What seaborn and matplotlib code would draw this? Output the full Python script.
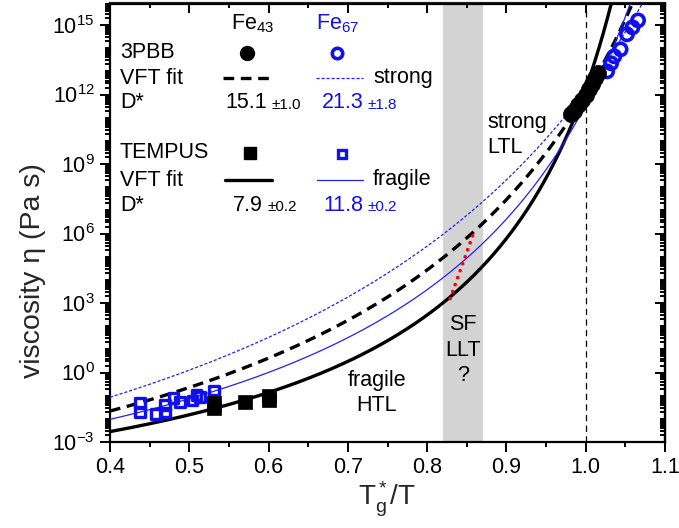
import numpy as np
import matplotlib
matplotlib.use("Agg")
import matplotlib.pyplot as plt
import seaborn as sns
from matplotlib.ticker import FixedLocator, LogLocator, MultipleLocator, NullFormatter, FuncFormatter

# ---- measured viscosities (log10 of eta in Pa s) vs Tg*/T ----
fe43_3pbb_x = [0.981, 0.985, 0.990, 0.995, 1.000, 1.004, 1.008, 1.012, 1.016]
fe43_3pbb_log = [11.15, 11.30, 11.55, 11.75, 12.00, 12.25, 12.45, 12.70, 12.95]
fe67_3pbb_x = [1.027, 1.032, 1.036, 1.044, 1.052, 1.059, 1.066]
fe67_3pbb_log = [13.00, 13.35, 13.65, 13.95, 14.60, 14.90, 15.20]
fe43_tempus_x = [0.531, 0.531, 0.570, 0.601, 0.601]
fe43_tempus_log = [-1.30, -1.52, -1.26, -1.02, -1.20]
fe67_tempus_x = [0.438, 0.438, 0.458, 0.469, 0.469, 0.480, 0.488, 0.504, 0.509, 0.514, 0.531]
fe67_tempus_log = [-1.33, -1.69, -1.79, -1.73, -1.40, -1.11, -1.26, -1.21, -0.97, -1.04, -0.78]

# ---- VFT fits: fragility D*, T0 (units of Tg*), log10 eta0 ----
fit_names = ["Fe43 3PBB", "Fe67 3PBB", "Fe43 TEMPUS", "Fe67 TEMPUS"]
fit_D = [15.1, 21.3, 7.9, 11.8]
fit_D_err = [1.0, 1.8, 0.2, 0.2]
fit_T0 = [0.713, 0.640, 0.828, 0.755]
fit_logeta0 = [-4.28, -4.25, -4.25, -4.24]

# strong-fragile transition path between the two Fe43 fits
sf_x = [0.829, 0.858]
sf_log = [3.19, 5.96]

# region of the proposed liquid-liquid transition
llt_band = [0.82, 0.87]

x_ticks = [0.4, 0.5, 0.6, 0.7, 0.8, 0.9, 1.0, 1.1]
y_tick_exps = [-3, 0, 3, 6, 9, 12, 15]


def vft(x, D, T0, logeta0):
    x = np.asarray(x)
    return 10 ** (logeta0 + D * T0 * x / (np.log(10) * (1 - T0 * x)))


sns.set_theme(style="ticks")
plt.rcParams["font.family"] = ["Liberation Sans", "DejaVu Sans"]
plt.rcParams["mathtext.fontset"] = "custom"
plt.rcParams["mathtext.rm"] = "Liberation Sans"
plt.rcParams["mathtext.it"] = "Liberation Sans:italic"

fig = plt.figure(figsize=(6.79, 5.28), dpi=100)
ax = fig.add_axes([110 / 679, 1 - 442 / 528, 555 / 679, 438.5 / 528])
ax.set_yscale("log")
ylo, yhi = 1e-3, 10 ** 15.93
ax.set_xlim(0.4, 1.1)
ax.set_ylim(ylo, yhi)

ax.axvspan(llt_band[0], llt_band[1], color="#d3d3d3", lw=0, zorder=0)
ax.axvline(1.0, color="black", lw=0.9, linestyle=(0, (5, 3.5)), zorder=1)

styles = [
    dict(color="black", lw=2.4, linestyle=(0, (3.2, 2.0))),
    dict(color="#2020ff", lw=0.9, linestyle=(0, (2.5, 1.5))),
    dict(color="black", lw=2.4, linestyle="-"),
    dict(color="#2020ff", lw=0.9, linestyle="-"),
]
xs_all = np.linspace(0.4, 1.1, 1400)
for D, T0, a, st in zip(fit_D, fit_T0, fit_logeta0, styles):
    xs = xs_all[xs_all < 1 / T0 - 1e-3]
    eta = vft(xs, D, T0, a)
    keep = eta < 10 ** 16.5
    sns.lineplot(x=xs[keep], y=eta[keep], ax=ax, zorder=3, **st)

sns.lineplot(x=sf_x, y=[10 ** v for v in sf_log], ax=ax, color="red", lw=2.6,
             linestyle=(0, (0.05, 2.0)), dash_capstyle="round", zorder=4)

blue = "#1010ee"
sns.scatterplot(x=fe67_tempus_x, y=[10 ** v for v in fe67_tempus_log], ax=ax, marker="s",
                s=50, facecolor="none", edgecolor=blue, linewidth=2.4, zorder=5)
sns.scatterplot(x=fe43_tempus_x, y=[10 ** v for v in fe43_tempus_log], ax=ax, marker="s",
                s=100, color="black", edgecolor="black", linewidth=0.5, zorder=5)
sns.scatterplot(x=fe67_3pbb_x, y=[10 ** v for v in fe67_3pbb_log], ax=ax, marker="o",
                s=78, facecolor="none", edgecolor=blue, linewidth=2.6, zorder=5)
sns.scatterplot(x=fe43_3pbb_x, y=[10 ** v for v in fe43_3pbb_log], ax=ax, marker="o",
                s=135, color="black", edgecolor="black", linewidth=0.5, zorder=6)

# axes, ticks
for sp in ax.spines.values():
    sp.set_linewidth(1.6)
    sp.set_color("black")
    sp.set_visible(True)
ax.xaxis.set_major_locator(FixedLocator(x_ticks))
ax.xaxis.set_minor_locator(MultipleLocator(0.05))
ax.xaxis.set_major_formatter(FuncFormatter(lambda v, p: f"{v:.1f}"))
ax.yaxis.set_major_locator(FixedLocator([10.0 ** e for e in y_tick_exps]))
ax.yaxis.set_minor_locator(LogLocator(base=10, subs=np.arange(1, 10), numticks=100))
ax.yaxis.set_minor_formatter(NullFormatter())
ax.yaxis.set_major_formatter(FuncFormatter(lambda v, p: r"$\mathregular{10^{%d}}$" % round(np.log10(v))))
ax.tick_params(which="both", direction="out", color="black", width=1.4,
               labelsize=15.5, labelcolor="black", top=False, right=False)
ax.tick_params(which="major", length=7, pad=4)
ax.tick_params(which="minor", length=3.5)

top = ax.secondary_xaxis("top")
top.xaxis.set_major_locator(FixedLocator(x_ticks))
top.xaxis.set_minor_locator(MultipleLocator(0.05))
top.tick_params(which="both", direction="in", labeltop=False, width=1.4, color="black")
top.tick_params(which="major", length=7)
top.tick_params(which="minor", length=3.5)
top.spines["top"].set_linewidth(1.6)

right = ax.secondary_yaxis("right")
right.yaxis.set_major_locator(FixedLocator([10.0 ** e for e in y_tick_exps]))
right.yaxis.set_minor_locator(LogLocator(base=10, subs=np.arange(1, 10), numticks=100))
right.yaxis.set_minor_formatter(NullFormatter())
right.tick_params(which="both", direction="in", labelright=False, width=1.4, color="black")
right.tick_params(which="major", length=7)
right.tick_params(which="minor", length=3.5)
right.spines["right"].set_linewidth(1.6)

ax.set_xlabel(r"$\mathregular{T_g^*/T}$", fontsize=20, labelpad=1)
ax.set_ylabel("viscosity η (Pa s)", fontsize=20.5)
ax.yaxis.set_label_coords(-0.115, 0.39)


# ---- in-plot key (placed in axes fraction) ----
def px(xp, yp):
    return (xp - 110) / 555, (442 - yp) / 438.5


tk = dict(transform=ax.transAxes, fontsize=15.5, va="center", color="black")
ax.text(*px(253, 24), r"$\mathregular{Fe_{43}}$", ha="center", **tk)
ax.text(*px(338, 24), r"$\mathregular{Fe_{67}}$", ha="center", **{**tk, "color": blue})

ax.text(*px(120, 53), "3PBB", ha="left", **tk)
ax.plot(*px(247, 53), "o", ms=10, color="black", transform=ax.transAxes, clip_on=False)
ax.plot(*px(337, 53), "o", ms=7.5, mfc="none", mec=blue, mew=2.6, transform=ax.transAxes)
ax.text(*px(120, 78), "VFT fit", ha="left", **tk)
ax.plot([px(223, 0)[0], px(272, 0)[0]], [px(0, 78)[1]] * 2, transform=ax.transAxes, **styles[0])
ax.plot([px(316, 0)[0], px(363, 0)[0]], [px(0, 78)[1]] * 2, transform=ax.transAxes, **styles[1])
ax.text(*px(373, 78), "strong", ha="left", **tk)
ax.text(*px(120, 103), "D*", ha="left", **tk)

ax.text(*px(120, 153), "TEMPUS", ha="left", **tk)
ax.plot(*px(250, 153), "s", ms=8, color="black", transform=ax.transAxes)
ax.plot(*px(342, 154), "s", ms=6, mfc="none", mec=blue, mew=2.4, transform=ax.transAxes)
ax.text(*px(120, 180), "VFT fit", ha="left", **tk)
ax.plot([px(225, 0)[0], px(272, 0)[0]], [px(0, 180)[1]] * 2, transform=ax.transAxes, **styles[2])
ax.plot([px(317, 0)[0], px(363, 0)[0]], [px(0, 180)[1]] * 2, transform=ax.transAxes, **styles[3])
ax.text(*px(373, 180), "fragile", ha="left", **tk)
ax.text(*px(120, 205), "D*", ha="left", **tk)

# fragility values with uncertainties, in order of fit_names
value_pos = [(267, 103, "black"), (364, 103, blue), (263, 205, "black"), (363, 205, blue)]
for D, err, (xp, yp, col) in zip(fit_D, fit_D_err, value_pos):
    ax.text(*px(xp, yp), f"{D:.1f}", ha="right", **{**tk, "color": col})
    ax.text(*px(xp + 4, yp + 2), f"±{err:.1f}", ha="left", transform=ax.transAxes,
            fontsize=11, va="center", color=col)

# regime annotations
ax.text(*px(487, 135), "strong\nLTL", ha="left", linespacing=1.3, **tk)
ax.text(*px(463, 350), "SF\nLLT\n?", ha="center", linespacing=1.3, **tk)
ax.text(*px(377, 393), "fragile\nHTL", ha="center", linespacing=1.3, **tk)

fig.savefig("out.png", dpi=100)
